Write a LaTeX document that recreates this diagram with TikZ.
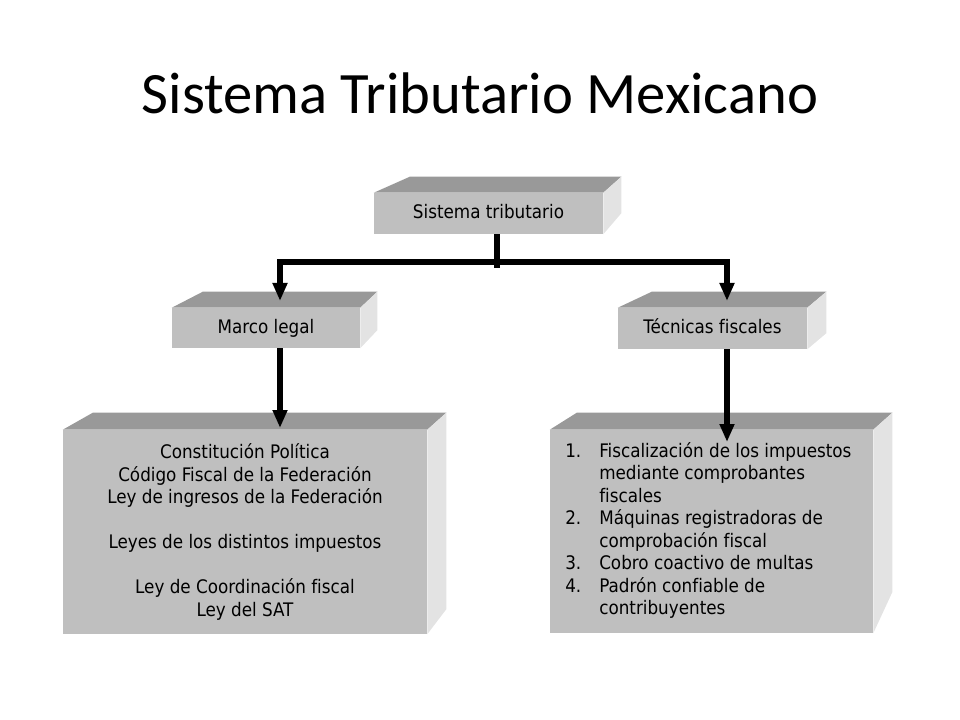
\documentclass[tikz,border=0pt]{standalone}
\usepackage{fontspec}
\usepackage{tikz}
\usetikzlibrary{arrows.meta}
\newfontfamily\titlefont{Carlito}
\newfontfamily\boxfont[Ligatures=NoCommon]{DejaVu Sans Condensed}
\definecolor{frontgray}{gray}{0.75}
\definecolor{topgray}{gray}{0.6}
\definecolor{sidegray}{gray}{0.89}

\begin{document}
\begin{tikzpicture}[x=0.75pt, y=-0.75pt,
  face/.style = {fill = frontgray, shape = rectangle, inner sep = 0pt, align = center,
                 font = \boxfont\fontsize{14pt}{16.9pt}\selectfont},
  oneline/.style = {face, text height = 10.5pt, text depth = 3pt},
  conn/.style = {line width = 3.8pt, draw = black},
  flecha/.style = {conn, -{Triangle[length = 13.5pt, width = 10.5pt]}}]
\useasboundingbox (0,0) rectangle (960,720);

\node[font = \titlefont\fontsize{44pt}{52pt}\selectfont] (titulo) at (480,93) {Sistema Tributario Mexicano};

\node[oneline, minimum width = 171.75pt, minimum height = 30.75pt] (tribut) at (488.5,213.5) {Sistema tributario};
\node[oneline, minimum width = 141pt, minimum height = 30pt] (marco) at (266,328) {Marco legal};
\node[oneline, minimum width = 141.75pt, minimum height = 30.75pt] (tecnicas) at (712.5,328.5) {Técnicas fiscales};
\node[face, minimum width = 273pt, minimum height = 153pt] (leyes) at (245,532)
  {Constitución Política\\ Código Fiscal de la Federación\\ Ley de ingresos de la Federación\\[16.9pt]
   Leyes de los distintos impuestos\\[16.9pt] Ley de Coordinación fiscal\\ Ley del SAT};
\node[face, minimum width = 242.25pt, minimum height = 152.25pt] (tecfis) at (711.5,531.5) {};
\node[anchor = north west, inner sep = 0pt, font = \boxfont\fontsize{14pt}{16.9pt}\selectfont] (lista) at (565,441)
  {\begin{tabular}{@{}p{25.5pt}@{}l@{}}
   1. & Fiscalización de los impuestos\\ & mediante comprobantes\\ & fiscales\\
   2. & Máquinas registradoras de\\ & comprobación fiscal\\
   3. & Cobro coactivo de multas\\
   4. & Padrón confiable de\\ & contribuyentes
   \end{tabular}};

% caras de arriba y de lado
\foreach \n/\l/\r/\t/\b in {tribut/36/18/16/21, marco/31/17/16/18, tecnicas/34/19/16/16, leyes/30/19/17/25, tecfis/27/19/17/41}
{
\fill[topgray] (\n.north west) -- ([shift = {(\l,-\t)}]\n.north west) -- ([shift = {(\r,-\t)}]\n.north east) -- (\n.north east) -- cycle;
\fill[sidegray] (\n.north east) -- ([shift = {(\r,-\t)}]\n.north east) -- ([shift = {(\r,-\b)}]\n.south east) -- (\n.south east) -- cycle;
}

\coordinate (split) at (497,262);
\coordinate (stubend) at (497,268);
\coordinate (marcotop) at (280,301);
\coordinate (tectop) at (727,301);
\coordinate (leyesin) at (280,428);
\coordinate (tecfisin) at (727,442);

\draw[conn] (tribut.south -| split) -- (stubend);
\draw[flecha] (split) -| (marcotop);
\draw[flecha] (split) -| (tectop);
\draw[flecha] (marco.south -| marcotop) -- (leyesin);
\draw[flecha] (tecnicas.south -| tectop) -- (tecfisin);
\end{tikzpicture}
\end{document}
